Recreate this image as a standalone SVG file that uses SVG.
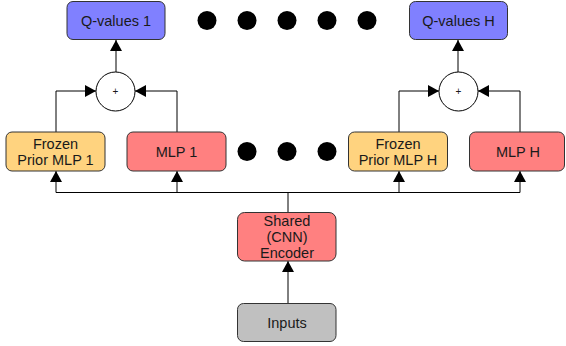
<svg xmlns="http://www.w3.org/2000/svg" width="566" height="346" viewBox="0 0 566 346">
<defs>
<style>
.box{stroke:#333;stroke-width:1}
.q{fill:#8080ff}
.fz{fill:#ffd37f}
.mlp{fill:#ff8080}
.inp{fill:#c0c0c0}
.t{font-family:"Liberation Sans",Arial,sans-serif;font-size:14.5px;fill:#1a1a1a;text-anchor:middle}
.c{fill:none;stroke:#000;stroke-width:1}
.dot{fill:#000}
</style>
<marker id="ah" viewBox="0 0 11 12" refX="11" refY="6" markerWidth="11" markerHeight="12" markerUnits="userSpaceOnUse" orient="auto">
<path d="M0,0 L11,6 L0,12 Z" fill="#000"/>
</marker>
</defs>
<g id="connectors">
<path class="c" d="M116,72 V40" marker-end="url(#ah)"/>
<path class="c" d="M458,72 V40" marker-end="url(#ah)"/>
<path class="c" d="M56,132 V91 H96" marker-end="url(#ah)"/>
<path class="c" d="M177,132 V91 H135" marker-end="url(#ah)"/>
<path class="c" d="M399,132 V91 H439" marker-end="url(#ah)"/>
<path class="c" d="M520,132 V91 H478" marker-end="url(#ah)"/>
<path class="c" d="M56,192.5 H520"/>
<path class="c" d="M288,212 V192.5"/>
<path class="c" d="M56,192.5 V171" marker-end="url(#ah)"/>
<path class="c" d="M177,192.5 V171" marker-end="url(#ah)"/>
<path class="c" d="M399,192.5 V171" marker-end="url(#ah)"/>
<path class="c" d="M520,192.5 V171" marker-end="url(#ah)"/>
<path class="c" d="M288,303 V261" marker-end="url(#ah)"/>
</g>
<g id="qvalues1"><rect class="box q" x="67" y="1.5" width="98" height="38" rx="6"/><text class="t" x="116" y="26">Q-values 1</text></g>
<g id="qvaluesH"><rect class="box q" x="409.5" y="1.5" width="98" height="38" rx="6"/><text class="t" x="458.5" y="26">Q-values H</text></g>
<g id="plus1"><circle cx="115.5" cy="91.5" r="19.5" fill="#fff" stroke="#000"/><text class="t" x="115.5" y="95" style="font-size:10px">+</text></g>
<g id="plusH"><circle cx="458.5" cy="91.5" r="19.5" fill="#fff" stroke="#000"/><text class="t" x="458.5" y="95" style="font-size:10px">+</text></g>
<g id="frozen1"><rect class="box fz" x="6" y="132" width="99" height="39" rx="6"/><text class="t" x="55.5" y="148.5">Frozen</text><text class="t" x="55.5" y="164.5">Prior MLP 1</text></g>
<g id="mlp1"><rect class="box mlp" x="127" y="132" width="99" height="39" rx="6"/><text class="t" x="176.5" y="157">MLP 1</text></g>
<g id="frozenH"><rect class="box fz" x="348.5" y="132" width="99" height="39" rx="6"/><text class="t" x="398" y="148.5">Frozen</text><text class="t" x="398" y="164.5">Prior MLP H</text></g>
<g id="mlpH"><rect class="box mlp" x="469.5" y="132" width="95" height="39" rx="6"/><text class="t" x="518" y="157">MLP H</text></g>
<g id="encoder"><rect class="box mlp" x="237.5" y="212.5" width="98.5" height="48.5" rx="7"/><text class="t" x="287" y="226">Shared</text><text class="t" x="287" y="242">(CNN)</text><text class="t" x="287" y="258">Encoder</text></g>
<g id="inputs"><rect class="box inp" x="237.5" y="303.5" width="98.5" height="38" rx="6"/><text class="t" x="287" y="328">Inputs</text></g>
<g id="dots">
<circle class="dot" cx="207" cy="20.5" r="9.5"/>
<circle class="dot" cx="247" cy="20.5" r="9.5"/>
<circle class="dot" cx="287" cy="20.5" r="9.5"/>
<circle class="dot" cx="327" cy="20.5" r="9.5"/>
<circle class="dot" cx="367" cy="20.5" r="9.5"/>
<circle class="dot" cx="247" cy="151.5" r="9.5"/>
<circle class="dot" cx="287" cy="151.5" r="9.5"/>
<circle class="dot" cx="327" cy="151.5" r="9.5"/>
</g>
</svg>
